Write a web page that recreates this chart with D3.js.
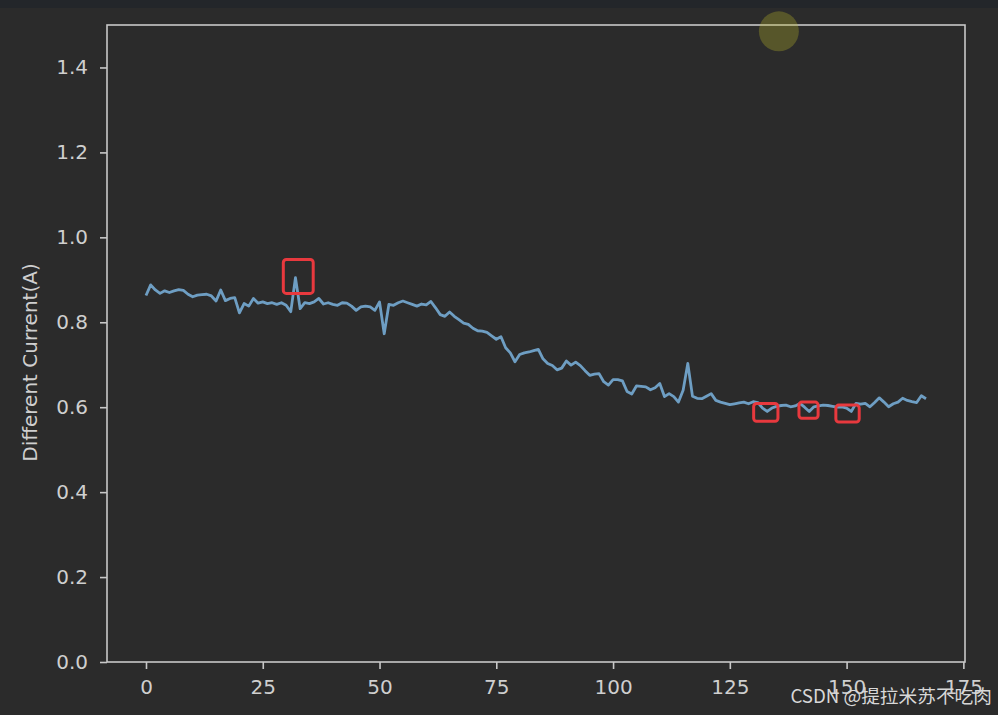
<!DOCTYPE html>
<html><head><meta charset="utf-8">
<script src="https://cdn.jsdelivr.net/npm/d3@7/dist/d3.min.js"></script>
<style>html,body{margin:0;padding:0;background:#2b2b2b;}svg{display:block;}</style>
</head><body>
<script>
const values = [0.863,0.888,0.876,0.868,0.874,0.870,0.874,0.877,0.875,0.866,
0.860,0.864,0.865,0.866,0.862,0.850,0.876,0.851,0.856,0.858,
0.822,0.844,0.838,0.856,0.845,0.848,0.844,0.846,0.842,0.846,
0.840,0.825,0.905,0.832,0.846,0.844,0.848,0.856,0.843,0.846,
0.842,0.840,0.846,0.845,0.838,0.828,0.836,0.838,0.836,0.828,
0.848,0.773,0.842,0.840,0.846,0.850,0.846,0.842,0.838,0.843,
0.841,0.849,0.834,0.818,0.814,0.824,0.814,0.806,0.798,0.795,
0.786,0.780,0.779,0.776,0.768,0.760,0.766,0.740,0.728,0.707,
0.724,0.728,0.730,0.733,0.736,0.714,0.703,0.698,0.688,0.692,
0.709,0.699,0.706,0.698,0.686,0.675,0.678,0.679,0.660,0.652,
0.665,0.665,0.662,0.637,0.631,0.650,0.649,0.648,0.641,0.646,
0.656,0.625,0.632,0.625,0.612,0.640,0.703,0.626,0.621,0.620,
0.626,0.632,0.616,0.612,0.609,0.606,0.608,0.610,0.612,0.608,
0.613,0.611,0.598,0.590,0.598,0.602,0.604,0.605,0.601,0.603,
0.609,0.600,0.590,0.601,0.603,0.605,0.604,0.602,0.600,0.601,
0.598,0.590,0.609,0.607,0.609,0.601,0.611,0.622,0.612,0.601,
0.608,0.612,0.621,0.616,0.613,0.611,0.627,0.620];
const xTicks = [0,25,50,75,100,125,150,175];
const yTicks = [0.0,0.2,0.4,0.6,0.8,1.0,1.2,1.4];
const yLabel = "Different Current(A)";
const watermark = "CSDN @提拉米苏不吃肉";
// annotation boxes in data units: [x0, x1, yTop, yBottom]
const boxes = [[29.4,35.8,0.948,0.868],[130.1,135.3,0.609,0.567],[139.8,143.9,0.612,0.574],[147.7,152.7,0.605,0.565]];
const marker = [135.5, 1.485];

const W=998,H=715;
const svg=d3.select("body").append("svg").attr("width",W).attr("height",H);
svg.append("rect").attr("width",W).attr("height",H).attr("fill","#2b2b2b");
svg.append("rect").attr("width",W).attr("height",8).attr("fill","#23262a");

const L=107,R=965,T=25,B=662;
const n=values.length-1;
const pad=n*0.05;
const x=d3.scaleLinear().domain([-pad,n+pad]).range([L,R]);
const y=d3.scaleLinear().domain([0,1.5]).range([B,T]);
const axisColor="#c8c8c8", textColor="#cfcfcf";
const font="'DejaVu Sans', sans-serif";

const gx=svg.append("g").attr("transform",`translate(0,${B})`)
 .call(d3.axisBottom(x).tickValues(xTicks).tickSize(7).tickPadding(11).tickFormat(d3.format("d")));
const gy=svg.append("g").attr("transform",`translate(${L},0)`)
 .call(d3.axisLeft(y).tickValues(yTicks).tickSize(7).tickPadding(12).tickFormat(d3.format(".1f")));
[gx,gy].forEach(g=>{
 g.select(".domain").remove();
 g.selectAll(".tick line").attr("stroke",axisColor).attr("stroke-width",1.6);
 g.selectAll(".tick text").attr("fill",textColor).style("font-family",font).style("font-size","20px");
});

svg.append("rect").attr("x",L).attr("y",T).attr("width",R-L).attr("height",B-T)
 .attr("fill","none").attr("stroke",axisColor).attr("stroke-width",1.6);

svg.append("text").attr("transform",`translate(30,${(T+B)/2+19}) rotate(-90)`)
 .attr("text-anchor","middle").attr("dominant-baseline","central").attr("fill",textColor)
 .style("font-family",font).style("font-size","20px")
 .text(yLabel);

const line=d3.line().x((d,i)=>x(i)).y(d=>y(d));
svg.append("path").datum(values).attr("d",line).attr("fill","none")
 .attr("stroke","#6e9ec3").attr("stroke-width",2.8).attr("stroke-linejoin","round");

svg.selectAll("rect.box").data(boxes).enter().append("rect").attr("class","box")
 .attr("x",d=>x(d[0])).attr("y",d=>y(d[2])).attr("width",d=>x(d[1])-x(d[0])).attr("height",d=>y(d[3])-y(d[2]))
 .attr("rx",3).attr("fill","none").attr("stroke","#e8393e").attr("stroke-width",3);

svg.append("circle").attr("cx",x(marker[0])).attr("cy",y(marker[1])).attr("r",20)
 .attr("fill","rgb(190,185,40)").attr("fill-opacity",0.3);

svg.append("text").attr("x",992).attr("y",703).attr("text-anchor","end")
 .attr("fill","#d8d8d8").style("font-family","'Noto Sans CJK SC', 'Noto Sans', sans-serif").style("font-size","18.7px")
 .text(watermark);
</script>
</body></html>
